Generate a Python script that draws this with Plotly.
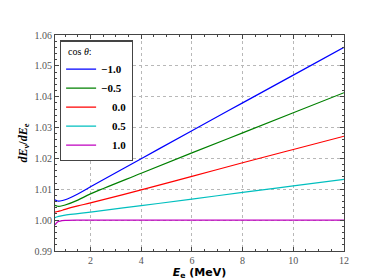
import plotly.graph_objects as go

energy = [0.6, 0.7, 0.8, 1.0, 1.5, 2.0, 4.0, 6.0, 8.0, 10.0, 12.0]
ratio_m10 = [1.0066, 1.0062, 1.0062, 1.0066, 1.0085, 1.0108, 1.0199, 1.0290, 1.0380, 1.0470, 1.0560]
ratio_m05 = [1.0048, 1.0045, 1.0045, 1.0049, 1.0065, 1.0085, 1.0152, 1.0218, 1.0283, 1.0348, 1.0413]
ratio_00 = [1.0026, 1.0028, 1.0030, 1.0035, 1.0046, 1.0056, 1.0098, 1.0142, 1.0186, 1.0229, 1.0272]
ratio_p05 = [1.0008, 1.0011, 1.0013, 1.0016, 1.0021, 1.0026, 1.0047, 1.0068, 1.0090, 1.0111, 1.0132]
ratio_p10 = [0.9985, 0.9994, 0.9997, 0.9999, 1.0000, 1.0000, 1.0000, 1.0000, 1.0000, 1.0000, 1.0000]

labels = ["\u22121.0", "\u22120.5", "\u2007\u20070.0", "\u2007\u20070.5", "\u2007\u20071.0"]
colors = ["#0000ff", "#008000", "#ff0000", "#00bfbf", "#bf00bf"]
series = [ratio_m10, ratio_m05, ratio_00, ratio_p05, ratio_p10]

SERIF = "Liberation Serif, DejaVu Serif, serif"

fig = go.Figure()
for lab, col, ys in zip(labels, colors, series):
    fig.add_trace(go.Scatter(x=energy, y=ys, mode="lines", name="<b>" + lab + "</b>",
                             line=dict(color=col, width=1.2, shape="spline")))

axis_common = dict(showline=True, linecolor="#444444", linewidth=1.2, mirror="ticks",
                   ticks="inside", ticklen=4, tickcolor="#444444",
                   showgrid=True, gridcolor="#b8b8b8", griddash="dot", gridwidth=1,
                   zeroline=False,
                   tickfont=dict(family=SERIF, size=10, color="#555555"))

fig.update_xaxes(range=[0.6, 12], dtick=2, tick0=0,
                 minor=dict(dtick=0.5, ticks="inside", ticklen=2, tickcolor="#444444", showgrid=False),
                 title=dict(text="<b><i>E</i><sub>e</sub> (MeV)</b>", font=dict(family="DejaVu Sans", size=11, color="black"), standoff=2),
                 **axis_common)
fig.update_yaxes(range=[0.99, 1.06], dtick=0.01, tick0=0.99, tickformat=".2f",
                 minor=dict(dtick=0.002, ticks="inside", ticklen=2, tickcolor="#444444", showgrid=False),
                 title=dict(text="<b><i>dE</i><sub>\u03bd</sub>/<i>dE</i><sub>e</sub></b>", font=dict(family=SERIF, size=12, color="black"), standoff=4),
                 **axis_common)

fig.update_layout(
    width=374, height=280,
    margin=dict(l=47, r=38, t=27, b=30),
    paper_bgcolor="white", plot_bgcolor="white",
    legend=dict(x=0.017, y=0.975, xanchor="left", yanchor="top",
                bgcolor="white", bordercolor="#444444", borderwidth=1.2,
                title=dict(text="  cos <i>\u03b8</i>:", font=dict(family=SERIF, size=10, color="black")),
                font=dict(family=SERIF, size=11, color="black"),
                itemwidth=30, tracegroupgap=0),
    showlegend=True,
)

fig.write_html("out.html")
